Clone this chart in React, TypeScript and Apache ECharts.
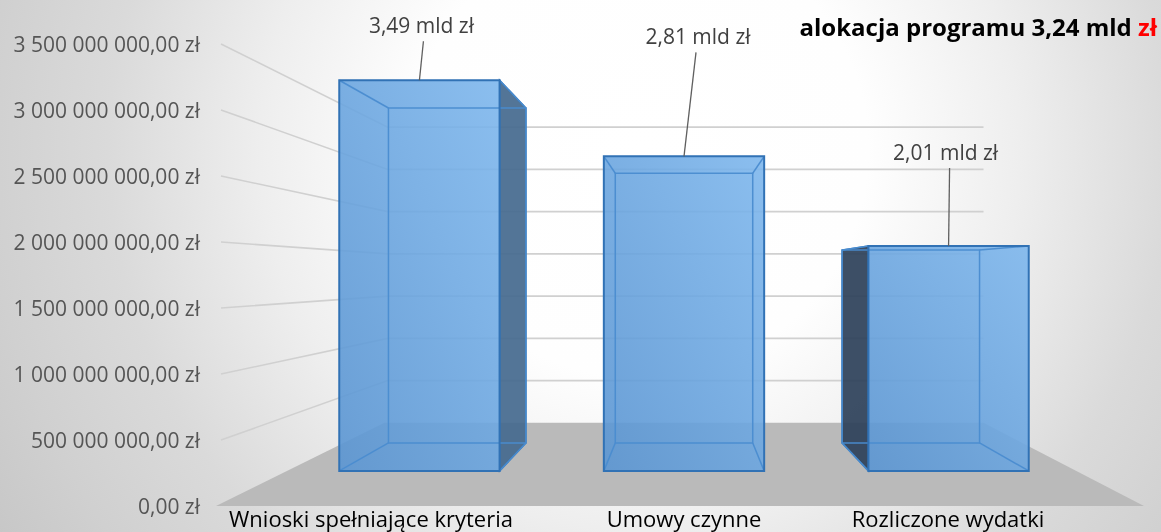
import React, { useEffect, useRef } from 'react';
import * as echarts from 'echarts';

// ---- data ----
const CATEGORIES = ['Wnioski spełniające kryteria', 'Umowy czynne', 'Rozliczone wydatki'];
const VALUES = [3.49e9, 2.81e9, 2.01e9];
const Y_TICKS = [0, 5e8, 1e9, 1.5e9, 2e9, 2.5e9, 3e9, 3.5e9];
const Y_MAX = 3.5e9;
const Y_INTERVAL = 5e8;
const ALLOCATION = 3.24e9;

// ---- layout (perspective) ----
const S_WALL = 0.64;
const S_FRONT = 0.848;
const S_BACK = 0.727;
const BAR_HALF = 0.303;
const LABEL_DX = [2, 14, -3];
const LABEL_DY = [-55, -120, -94];
const LEAD_DX = [2, -2, 4];
const FONT = 'Open Sans';

function fmtAxis(v: number): string {
  const s = Math.round(v).toString().replace(/\B(?=(\d{3})+(?!\d))/g, ' ');
  return s + ',00 zł';
}
function fmtMld(v: number): string {
  return (v / 1e9).toFixed(2).replace('.', ',') + ' mld zł';
}

export default function App() {
  const ref = useRef<HTMLDivElement>(null);
  useEffect(() => {
    if (!ref.current) return;
    const chart = echarts.init(ref.current, null, { renderer: 'svg' });

    const renderWall = (params: any, api: any) => {
      const cs = params.coordSys;
      const vx = cs.x + cs.width / 2;
      const vy = cs.y + cs.height / 2;
      const P = (X: number, Y: number, s: number) => [vx + s * (X - vx), vy + s * (Y - vy)];
      const v = api.value(1);
      const y = api.coord([0, v])[1];
      const L = cs.x;
      const R = cs.x + cs.width;
      if (v === 0) {
        return {
          type: 'polygon',
          silent: true,
          shape: { points: [[L, y], [R - 8, y], P(R, y, S_WALL), P(L, y, S_WALL)] },
          style: { fill: '#bababa' },
        };
      }
      return {
        type: 'polyline',
        silent: true,
        shape: { points: [[L + 5, y], P(L + 5, y, S_WALL), P(R, y, S_WALL)] },
        style: { stroke: '#d0d0d0', lineWidth: 1.6, fill: 'none' },
      };
    };

    const renderBar = (params: any, api: any) => {
      const cs = params.coordSys;
      const vx = cs.x + cs.width / 2;
      const vy = cs.y + cs.height / 2;
      const P = (X: number, Y: number, s: number) => [vx + s * (X - vx), vy + s * (Y - vy)];
      const idx = api.value(0);
      const val = api.value(1);
      const base = api.coord([idx, 0]);
      const top = api.coord([idx, val]);
      const hw = api.size([1, 0])[0] * BAR_HALF;
      const XL = base[0] - hw;
      const XR = base[0] + hw;
      const Y0 = base[1];
      const YT = top[1];
      const f = [P(XL, YT, S_FRONT), P(XR, YT, S_FRONT), P(XR, Y0, S_FRONT), P(XL, Y0, S_FRONT)];
      const b = [P(XL, YT, S_BACK), P(XR, YT, S_BACK), P(XR, Y0, S_BACK), P(XL, Y0, S_BACK)];
      const children: any[] = [];
      const edge = { stroke: 'rgba(74,140,208,0.95)', lineWidth: 1.5, fill: 'none' };

      if (XR < vx) {
        children.push({
          type: 'polygon',
          shape: { points: [f[1], b[1], b[2], f[2]] },
          style: { fill: 'rgba(70,106,143,0.93)', stroke: '#2f6fb0', lineWidth: 1.5 },
        });
      } else if (XL > vx) {
        children.push({
          type: 'polygon',
          shape: { points: [f[0], b[0], b[3], f[3]] },
          style: { fill: 'rgba(46,66,90,0.93)', stroke: '#2f6fb0', lineWidth: 1.5 },
        });
      }
      children.push({
        type: 'polygon',
        shape: { points: f },
        style: {
          fill: {
            type: 'linear', x: 0, y: 1, x2: 1, y2: 0,
            colorStops: [
              { offset: 0, color: 'rgba(90,149,210,0.9)' },
              { offset: 1, color: 'rgba(126,183,237,0.9)' },
            ],
          },
        },
      });
      children.push({ type: 'polygon', shape: { points: b }, style: edge });
      for (let k = 0; k < 4; k++) {
        children.push({
          type: 'line',
          shape: { x1: f[k][0], y1: f[k][1], x2: b[k][0], y2: b[k][1] },
          style: edge,
        });
      }
      children.push({
        type: 'polygon',
        shape: { points: f },
        style: { fill: 'none', stroke: '#3172b5', lineWidth: 2 },
      });

      const tc = [(f[0][0] + f[1][0]) / 2, f[0][1]];
      const lx = tc[0] + LABEL_DX[idx];
      const ly = tc[1] + LABEL_DY[idx];
      children.push({
        type: 'line',
        shape: { x1: lx + LEAD_DX[idx], y1: ly + 16, x2: tc[0], y2: tc[1] },
        style: { stroke: '#5f5f5f', lineWidth: 1.3 },
      });
      children.push({
        type: 'text',
        x: lx,
        y: ly,
        style: {
          text: fmtMld(val),
          fontSize: 21,
          fontFamily: FONT,
          fill: '#404040',
          align: 'center',
          verticalAlign: 'middle',
        },
      });
      return { type: 'group', children };
    };

    const catRich: any = {};
    CATEGORIES.forEach((_, i) => {
      catRich['c' + i] = {
        fontSize: 22,
        fontFamily: FONT,
        color: '#000000',
        padding: i === 2 ? [0, 96, 0, 0] : i === 0 ? [0, 2, 0, 0] : [0, 0, 0, 0],
      };
    });

    const option: any = {
      animation: false,
      backgroundColor: {
        type: 'radial', x: 640, y: 150, r: 760, global: true,
        colorStops: [
          { offset: 0, color: '#ffffff' },
          { offset: 0.3, color: '#fefefe' },
          { offset: 0.5, color: '#eeeeee' },
          { offset: 0.7, color: '#dadada' },
          { offset: 0.86, color: '#d0d0d0' },
          { offset: 1, color: '#c6c6c6' },
        ],
      },
      grid: { left: 216, right: 9, top: 44, bottom: 26, containLabel: false },
      xAxis: {
        type: 'category',
        data: CATEGORIES,
        axisLine: { show: false },
        axisTick: { show: false },
        splitLine: { show: false },
        axisLabel: {
          interval: 0,
          margin: 1,
          fontSize: 22,
          fontFamily: FONT,
          color: '#000000',
          formatter: (v: string, i: number) => `{c${i}|${v}}`,
          rich: catRich,
        },
      },
      yAxis: {
        type: 'value',
        min: 0,
        max: Y_MAX,
        interval: Y_INTERVAL,
        axisLine: { show: false },
        axisTick: { show: false },
        splitLine: { show: false },
        axisLabel: {
          margin: 16,
          fontSize: 21,
          fontFamily: FONT,
          color: '#555555',
          formatter: (v: number) => fmtAxis(v),
        },
      },
      graphic: [
        {
          type: 'text',
          right: 4,
          top: 14,
          style: {
            text: `{a|alokacja programu ${(ALLOCATION / 1e9).toFixed(2).replace('.', ',')} mld }{b|zł}`,
            rich: {
              a: { fontSize: 24, fontWeight: 'bold', fontFamily: FONT, fill: '#000000' },
              b: { fontSize: 24, fontWeight: 'bold', fontFamily: FONT, fill: '#ff0000' },
            },
          },
        },
      ],
      series: [
        {
          type: 'custom',
          name: 'walls',
          coordinateSystem: 'cartesian2d',
          renderItem: renderWall,
          data: Y_TICKS.map((v) => [0, v]),
          encode: { x: 0, y: 1 },
          z: 1,
          silent: true,
        },
        {
          type: 'custom',
          name: 'bars',
          coordinateSystem: 'cartesian2d',
          renderItem: renderBar,
          data: VALUES.map((v, i) => [i, v]),
          encode: { x: 0, y: 1 },
          z: 2,
        },
      ],
    };
    chart.setOption(option);
    return () => chart.dispose();
  }, []);
  return (
    <div
      ref={ref}
      style={{ position: 'fixed', left: 0, top: 0, width: 1161, height: 532 }}
    />
  );
}
